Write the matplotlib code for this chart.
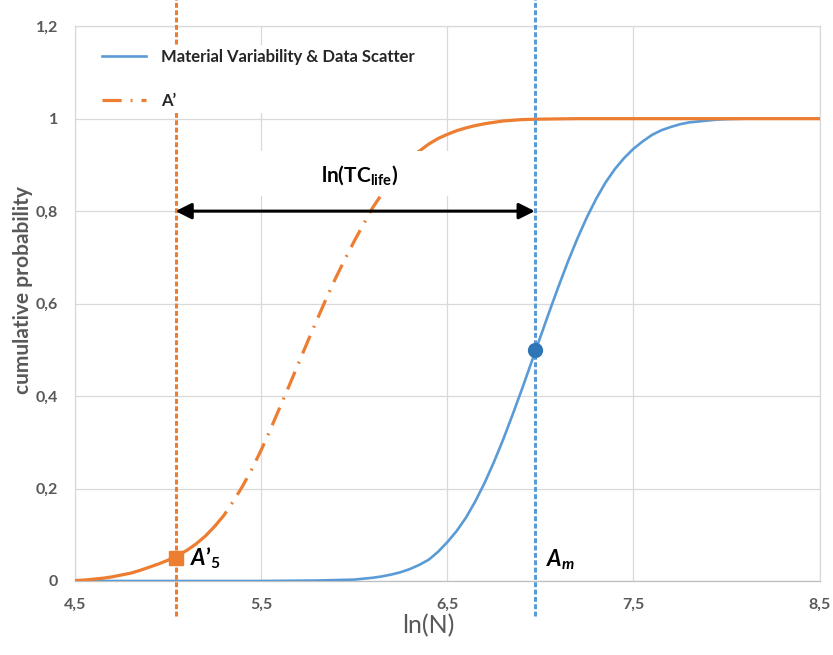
import matplotlib.pyplot as plt
from matplotlib.patches import Rectangle

plt.rcParams['font.family'] = ['Lato', 'DejaVu Sans']
plt.rcParams['mathtext.fontset'] = 'custom'
plt.rcParams['mathtext.rm'] = 'Lato:bold'
plt.rcParams['mathtext.it'] = 'Lato:italic:bold'
plt.rcParams['mathtext.bf'] = 'Lato:bold'

# values
BLUE_X = [4.5, 5.0, 5.5, 5.8, 5.9, 6.0, 6.05, 6.1, 6.15, 6.2, 6.25, 6.3, 6.35, 6.4,
          6.45, 6.5, 6.55, 6.6, 6.65, 6.7, 6.75, 6.8, 6.85, 6.9, 6.95, 7.0, 7.05,
          7.1, 7.15, 7.2, 7.25, 7.3, 7.35, 7.4, 7.45, 7.5, 7.55, 7.6, 7.65, 7.7,
          7.75, 7.8, 7.85, 7.9, 7.95, 8.0, 8.1, 8.5]
BLUE_Y = [0, 0, 0, 0.001, 0.002, 0.003, 0.005, 0.007, 0.010, 0.014, 0.019, 0.026,
          0.035, 0.046, 0.063, 0.084, 0.108, 0.137, 0.172, 0.212, 0.257, 0.306,
          0.359, 0.414, 0.471, 0.528, 0.585, 0.640, 0.693, 0.742, 0.787, 0.827,
          0.862, 0.891, 0.915, 0.935, 0.951, 0.965, 0.975, 0.982, 0.988, 0.992,
          0.994, 0.996, 0.998, 0.999, 1.0, 1.0]

ORANGE_X = [4.5, 4.55, 4.6, 4.65, 4.7, 4.75, 4.8, 4.85, 4.9, 4.95, 5.0, 5.05, 5.1,
            5.15, 5.2, 5.25, 5.3, 5.35, 5.4, 5.45, 5.5, 5.55, 5.6, 5.65, 5.7, 5.75,
            5.8, 5.85, 5.9, 5.95, 6.0, 6.05, 6.1, 6.15, 6.2, 6.25, 6.3, 6.35, 6.4,
            6.45, 6.5, 6.55, 6.6, 6.65, 6.7, 6.75, 6.8, 6.9, 7.0, 7.2, 8.5]
ORANGE_Y = [0.001, 0.002, 0.004, 0.006, 0.009, 0.013, 0.017, 0.023, 0.030, 0.037,
            0.045, 0.055, 0.066, 0.080, 0.097, 0.118, 0.142, 0.172, 0.205, 0.242,
            0.283, 0.328, 0.375, 0.422, 0.470, 0.518, 0.565, 0.611, 0.655, 0.696,
            0.735, 0.772, 0.808, 0.838, 0.866, 0.890, 0.911, 0.930, 0.945, 0.957,
            0.966, 0.974, 0.980, 0.985, 0.989, 0.992, 0.995, 0.998, 0.999, 1.0, 1.0]

A5_X, A5_Y = 5.04, 0.05
AM_X, AM_Y = 6.97, 0.5
ARROW_Y = 0.8

XTICKS = [4.5, 5.5, 6.5, 7.5, 8.5]
XTICK_LABELS = ['4,5', '5,5', '6,5', '7,5', '8,5']
YTICKS = [0, 0.2, 0.4, 0.6, 0.8, 1.0, 1.2]
YTICK_LABELS = ['0', '0,2', '0,4', '0,6', '0,8', '1', '1,2']

BLUE = '#5B9BD5'
ORANGE = '#ED7D31'
GRAY = '#595959'

fig = plt.figure(figsize=(8.33, 6.55), dpi=100)
ax = fig.add_axes([0.09, 0.113, 0.894, 0.847])

ax.plot(BLUE_X, BLUE_Y, color=BLUE, lw=1.9, zorder=3,
        label='Material Variability & Data Scatter')

# orange curve: solid tails, dash-dot middle
i0 = ORANGE_X.index(5.25)
i1 = ORANGE_X.index(6.35)
ax.plot(ORANGE_X[i0:i1 + 1], ORANGE_Y[i0:i1 + 1], color=ORANGE, lw=2.3, zorder=3,
        linestyle=(0, (6, 2.8, 0.6, 2.8)), label='A\u2019')
ax.plot(ORANGE_X[:i0 + 1], ORANGE_Y[:i0 + 1], color=ORANGE, lw=2.3, zorder=3)
ax.plot(ORANGE_X[i1:], ORANGE_Y[i1:], color=ORANGE, lw=2.3, zorder=3)

# vertical dashed lines running past the plot area
ax.plot([A5_X, A5_X], [-0.075, 1.26], color=ORANGE, lw=2.2,
        linestyle=(0, (1.6, 0.8)), clip_on=False, zorder=4)
ax.plot([AM_X, AM_X], [-0.075, 1.26], color=BLUE, lw=2.2,
        linestyle=(0, (1.6, 0.8)), clip_on=False, zorder=4)

ax.plot([A5_X], [A5_Y], marker='s', ms=10, color=ORANGE, zorder=6)
ax.plot([AM_X], [AM_Y], marker='o', ms=10, color='#2E75B6', zorder=6)

# white box behind the label
ax.add_patch(Rectangle((5.3, 0.832), 1.4, 0.097, facecolor='white',
                       edgecolor='none', zorder=4.5))
ax.text(6.03, 0.878, r'$\mathrm{ln(TC_{life})}$', ha='center', va='center',
        fontsize=15, color='black', zorder=5)
ax.annotate('', xy=(AM_X, ARROW_Y), xytext=(A5_X, ARROW_Y),
            arrowprops=dict(arrowstyle='<|-|>', color='black', lw=2.2,
                            mutation_scale=24, shrinkA=0, shrinkB=0), zorder=5)

ax.text(A5_X + 0.08, A5_Y, '$A\u2019_5$', fontsize=16, va='center', ha='left',
        color='black', zorder=6)
ax.text(AM_X + 0.06, 0.045, '$A_m$', fontsize=16, va='center', ha='left',
        color='black', zorder=6)

ax.set_xlim(4.5, 8.5)
ax.set_ylim(0, 1.2)
ax.set_xticks(XTICKS)
ax.set_xticklabels(XTICK_LABELS)
ax.set_yticks(YTICKS)
ax.set_yticklabels(YTICK_LABELS)
ax.tick_params(length=0, labelsize=11.5, labelcolor=GRAY)
ax.tick_params(axis='x', pad=12)
ax.tick_params(axis='y', pad=12)
for lab in ax.get_xticklabels() + ax.get_yticklabels():
    lab.set_fontweight('bold')

ax.grid(True, color='#D9D9D9', lw=0.9)
ax.set_axisbelow(True)
for s in ['top', 'right', 'left']:
    ax.spines[s].set_color('#D9D9D9')
    ax.spines[s].set_linewidth(0.9)
ax.spines['bottom'].set_color('#BFBFBF')
ax.spines['bottom'].set_linewidth(0.9)

ax.set_xlabel('ln(N)', fontsize=18, color=GRAY)
ax.xaxis.set_label_coords(0.474, -0.06)
ax.set_ylabel('cumulative probability', fontsize=15, color=GRAY, fontweight='bold')
ax.yaxis.set_label_coords(-0.056, 0.524)

leg = ax.legend(loc='upper left', bbox_to_anchor=(0.02, 0.982), frameon=True,
                facecolor='white', edgecolor='none', framealpha=1, fancybox=False,
                prop=dict(weight='bold', size=12), handlelength=2.6,
                handletextpad=0.9, labelspacing=1.7, borderpad=0.25)
leg.set_zorder(7)
for t in leg.get_texts():
    t.set_color('#262626')

fig.savefig('out.png', dpi=100)
